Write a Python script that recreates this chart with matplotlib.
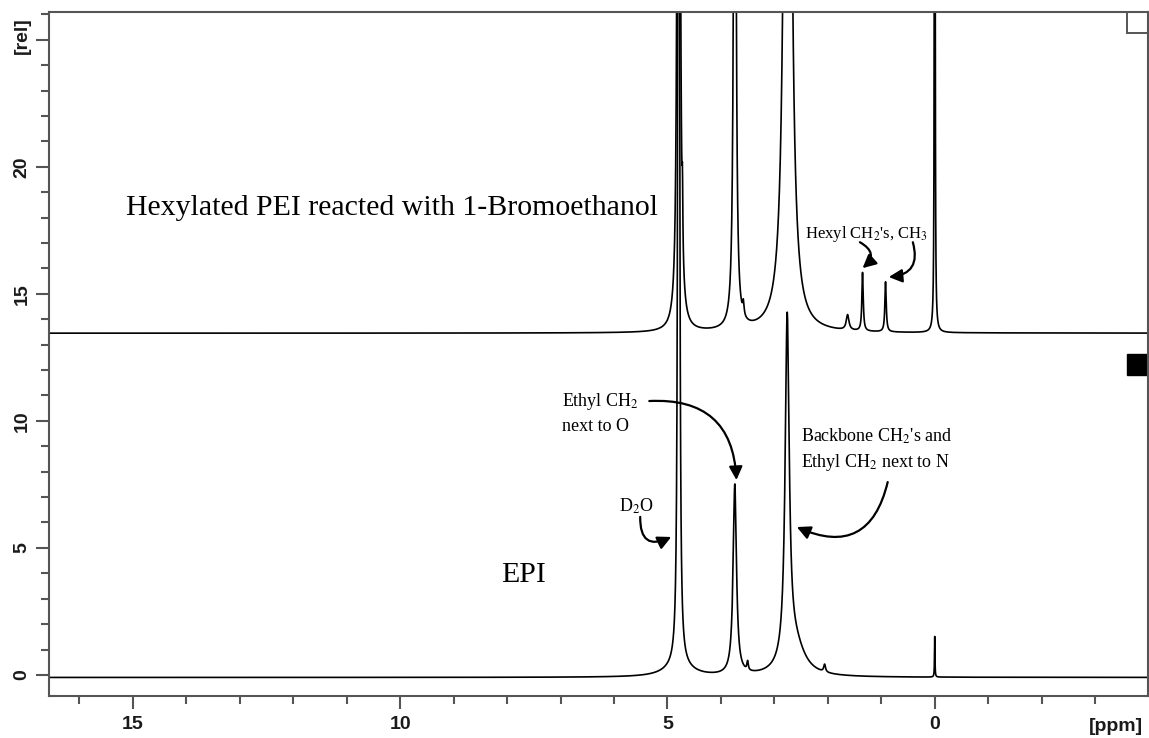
import numpy as np
import matplotlib
matplotlib.use("Agg")
import matplotlib.pyplot as plt
from matplotlib.patches import Rectangle

# peak tables: centre (ppm), height (rel), half width (ppm)
top_centres = [4.79, 4.72, 3.74, 3.58, 2.75, 1.63, 1.35, 0.92, 0.0]
top_heights = [150, 2.3, 40, 0.5, 60, 0.6, 2.3, 1.97, 100]
top_widths = [0.012, 0.008, 0.02, 0.015, 0.05, 0.03, 0.015, 0.015, 0.004]
top_baseline = 13.45

epi_centres = [4.79, 4.79, 3.74, 3.50, 2.76, 2.62, 2.06, 0.0]
epi_heights = [100, 0.45, 7.5, 0.35, 13.5, 1.2, 0.3, 1.6]
epi_widths = [0.011, 0.28, 0.037, 0.015, 0.0455, 0.22, 0.02, 0.005]
epi_baseline = -0.1

x_major = [15, 10, 5, 0]
y_major = [0, 5, 10, 15, 20]

plt.rcParams['mathtext.fontset'] = 'stix'
SERIF = 'Liberation Serif'
SANS = 'Liberation Sans'
AXC = '#555555'


def spectrum(ppm, centres, heights, widths, base):
    y = np.full_like(ppm, base)
    for c, h, w in zip(centres, heights, widths):
        y += h / (1 + ((ppm - c) / w) ** 2)
    return y


ppm = np.linspace(-4.5, 17, 40001)

fig = plt.figure(figsize=(11.49, 7.38), dpi=100)
ax = fig.add_axes([0.04265, 0.0569, 0.9565, 0.9268])

ax.plot(ppm, spectrum(ppm, top_centres, top_heights, top_widths, top_baseline),
        color='black', lw=1.2)
ax.plot(ppm, spectrum(ppm, epi_centres, epi_heights, epi_widths, epi_baseline),
        color='black', lw=1.2)

ax.set_xlim(16.57, -3.99)
ax.set_ylim(-0.83, 26.09)

ax.set_xticks(x_major)
ax.set_xticks(np.arange(-3, 17), minor=True)
ax.set_yticks(y_major + [25])
ax.set_yticklabels([str(v) for v in y_major] + [''])
ax.set_yticks(np.arange(0, 27), minor=True)

ax.tick_params(which='major', length=9.4, width=1.5, color=AXC, pad=5)
ax.tick_params(which='minor', length=5.5, width=1.5, color=AXC)
ax.tick_params(axis='y', labelrotation=90, pad=4)
for lab in ax.get_xticklabels() + ax.get_yticklabels():
    lab.set_fontfamily(SANS)
    lab.set_fontweight('bold')
    lab.set_fontsize(14)
    lab.set_color('#1a1a1a')
for lab in ax.get_yticklabels():
    lab.set_va('center')

for s in ax.spines.values():
    s.set_color(AXC)
    s.set_linewidth(1.5)

ax.text(-0.0246, 0.966, '[rel]', transform=ax.transAxes, rotation=90,
        ha='center', va='center', fontsize=14, fontweight='bold',
        family=SANS, color='#1a1a1a')
ax.text(0.971, -0.045, '[ppm]', transform=ax.transAxes, ha='center',
        va='center', fontsize=14, fontweight='bold', family=SANS,
        color='#1a1a1a')

ax.add_patch(Rectangle((0.981, 0.969), 0.019, 0.031, transform=ax.transAxes,
                       fill=False, ec=AXC, lw=1.4, clip_on=False))
ax.add_patch(Rectangle((0.981, 0.469), 0.019, 0.031, transform=ax.transAxes,
                       fc='black', ec='black', lw=1, clip_on=False))

# labels
ax.text(15.13, 18.1, 'Hexylated PEI reacted with 1-Bromoethanol',
        family=SERIF, fontsize=21.5, va='baseline')
ax.text(8.11, 3.66, 'EPI', family=SERIF, fontsize=21.5, va='baseline')
ax.text(2.43, 17.19, "Hexyl CH$_2$'s, CH$_3$", family=SERIF, fontsize=12,
        va='baseline')
ax.text(6.97, 10.58, 'Ethyl CH$_2$', family=SERIF, fontsize=13, va='baseline')
ax.text(6.97, 9.6, 'next to O', family=SERIF, fontsize=13, va='baseline')
ax.text(2.51, 9.17, "Backbone CH$_2$'s and", family=SERIF, fontsize=13,
        va='baseline')
ax.text(2.51, 8.18, 'Ethyl CH$_2$ next to N', family=SERIF, fontsize=13,
        va='baseline')
ax.text(5.9, 6.41, 'D$_2$O', family=SERIF, fontsize=13, va='baseline')

# curved arrows: (start, end, curvature)
arrows = [((5.34, 10.78), (3.71, 7.67), -0.5),
          ((0.88, 7.59), (2.58, 5.82), -0.6),
          ((5.51, 6.22), (4.93, 5.43), 0.8),
          ((1.40, 17.03), (1.35, 16.01), -0.7),
          ((0.41, 17.03), (0.86, 15.66), -0.6)]
for start, end, rad in arrows:
    ax.annotate('', xy=end, xytext=start,
                arrowprops=dict(arrowstyle='-|>', color='black', lw=1.6,
                                mutation_scale=20, shrinkA=0, shrinkB=0,
                                connectionstyle=f'arc3,rad={rad}'))

fig.savefig('out.png', dpi=100)
